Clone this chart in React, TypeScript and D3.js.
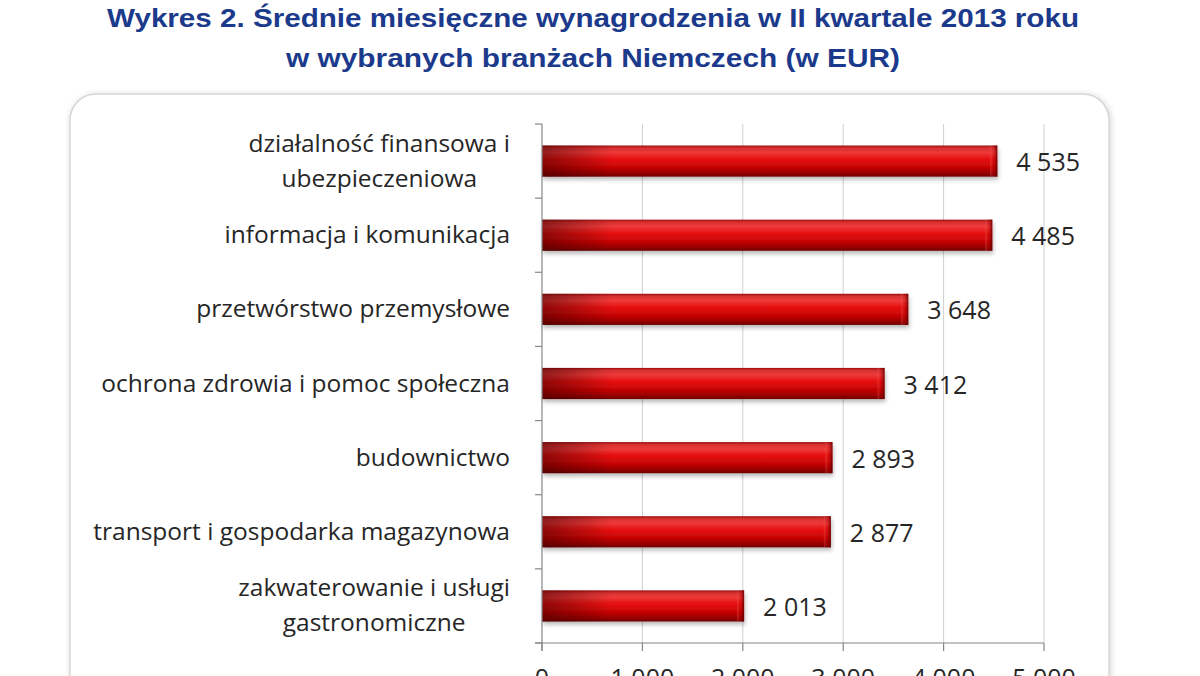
import { useEffect, useRef } from 'react';
import * as d3 from 'd3';

// Chart data
const categories = [
  'działalność finansowa i\nubezpieczeniowa',
  'informacja i komunikacja',
  'przetwórstwo przemysłowe',
  'ochrona zdrowia i pomoc społeczna',
  'budownictwo',
  'transport i gospodarka magazynowa',
  'zakwaterowanie i usługi\ngastronomiczne',
];
const values = [4535, 4485, 3648, 3412, 2893, 2877, 2013];
const xTicks = [0, 1000, 2000, 3000, 4000, 5000];
const titleLines = [
  'Wykres 2. Średnie miesięczne wynagrodzenia w II kwartale 2013 roku',
  'w wybranych branżach Niemczech (w EUR)',
];
const titleWidths = [972, 614];

const WIDTH = 1200;
const HEIGHT = 676;
const LABEL_FONT = '"Open Sans", "Noto Sans", sans-serif';

const plLocale = d3.formatLocale({ decimal: ',', thousands: ' ', grouping: [3], currency: ['', ' EUR'] });
const fmt = plLocale.format(',d');

export default function App() {
  const svgRef = useRef<SVGSVGElement>(null);

  useEffect(() => {
    if (!svgRef.current) return;
    const svg = d3.select(svgRef.current);
    svg.selectAll('*').remove();

    const margin = { top: 124, right: 156, bottom: 33, left: 542 };
    const x = d3.scaleLinear().domain([0, 5000]).range([margin.left, WIDTH - margin.right]);
    const y = d3.scaleBand()
      .domain(categories)
      .range([margin.top, HEIGHT - margin.bottom])
      .paddingInner(0.58)
      .paddingOuter(0.29);

    const defs = svg.append('defs');

    // panel shadow
    const shadow = defs.append('filter').attr('id', 'panelShadow')
      .attr('x', '-5%').attr('y', '-5%').attr('width', '110%').attr('height', '110%');
    shadow.append('feGaussianBlur').attr('in', 'SourceAlpha').attr('stdDeviation', 3);
    shadow.append('feOffset').attr('dx', 1).attr('dy', 1).attr('result', 'b');
    shadow.append('feComponentTransfer').append('feFuncA').attr('type', 'linear').attr('slope', 0.18);
    const merge = shadow.append('feMerge');
    merge.append('feMergeNode');
    merge.append('feMergeNode').attr('in', 'SourceGraphic');

    // bar shadow
    const barShadow = defs.append('filter').attr('id', 'barShadow')
      .attr('x', '-2%').attr('y', '-20%').attr('width', '106%').attr('height', '160%');
    barShadow.append('feDropShadow')
      .attr('dx', 1).attr('dy', 3).attr('stdDeviation', 2)
      .attr('flood-color', '#000').attr('flood-opacity', 0.28);

    // vertical cylinder gradient
    const vg = defs.append('linearGradient').attr('id', 'barFill')
      .attr('x1', 0).attr('y1', 0).attr('x2', 0).attr('y2', 1);
    [
      ['0%', '#9c1010'],
      ['8%', '#d63030'],
      ['22%', '#ee3a3a'],
      ['45%', '#e50d0d'],
      ['70%', '#c60505'],
      ['90%', '#940000'],
      ['100%', '#6a0000'],
    ].forEach(([o, c]) => vg.append('stop').attr('offset', o).attr('stop-color', c));

    // darker left end
    const lg = defs.append('linearGradient').attr('id', 'barLeft')
      .attr('gradientUnits', 'userSpaceOnUse')
      .attr('x1', x(0)).attr('x2', x(0) + 70).attr('y1', 0).attr('y2', 0);
    lg.append('stop').attr('offset', '0%').attr('stop-color', '#3a0000').attr('stop-opacity', 0.5);
    lg.append('stop').attr('offset', '100%').attr('stop-color', '#3a0000').attr('stop-opacity', 0);

    // right end bevel
    const rg = defs.append('linearGradient').attr('id', 'barRight')
      .attr('x1', 0).attr('x2', 1).attr('y1', 0).attr('y2', 0);
    rg.append('stop').attr('offset', '0%').attr('stop-color', '#ff6a6a').attr('stop-opacity', 0.35);
    rg.append('stop').attr('offset', '45%').attr('stop-color', '#b00000').attr('stop-opacity', 0.2);
    rg.append('stop').attr('offset', '100%').attr('stop-color', '#500000').attr('stop-opacity', 0.8);

    // Title
    svg.append('g')
      .selectAll('text')
      .data(titleLines)
      .enter()
      .append('text')
      .attr('x', 593)
      .attr('y', (_, i) => 27 + i * 40)
      .attr('text-anchor', 'middle')
      .attr('font-family', '"Liberation Sans", Arial, sans-serif')
      .attr('font-weight', 700)
      .attr('font-size', 25)
      .attr('fill', '#1c3a8c')
      .attr('textLength', (_, i) => titleWidths[i])
      .attr('lengthAdjust', 'spacingAndGlyphs')
      .text(d => d);

    // Panel
    svg.append('rect')
      .attr('x', 70).attr('y', 94)
      .attr('width', 1039).attr('height', 640)
      .attr('rx', 26).attr('ry', 26)
      .attr('fill', '#fff')
      .attr('stroke', '#d6d6d6')
      .attr('stroke-width', 1.5)
      .attr('filter', 'url(#panelShadow)');

    const plotBottom = HEIGHT - margin.bottom;

    // Gridlines
    svg.append('g')
      .selectAll('line')
      .data(xTicks.slice(1))
      .enter()
      .append('line')
      .attr('x1', d => x(d)).attr('x2', d => x(d))
      .attr('y1', margin.top).attr('y2', plotBottom)
      .attr('stroke', '#cfcfcf')
      .attr('stroke-width', 1);

    // Bars
    const bars = svg.append('g')
      .selectAll('g')
      .data(categories.map((c, i) => ({ c, v: values[i] })))
      .enter()
      .append('g');

    bars.append('rect')
      .attr('x', x(0))
      .attr('y', d => y(d.c) || 0)
      .attr('width', d => x(d.v) - x(0))
      .attr('height', y.bandwidth())
      .attr('fill', 'url(#barFill)')
      .attr('filter', 'url(#barShadow)');

    bars.append('rect')
      .attr('x', x(0))
      .attr('y', d => y(d.c) || 0)
      .attr('width', d => x(d.v) - x(0))
      .attr('height', y.bandwidth())
      .attr('fill', 'url(#barLeft)');

    bars.append('rect')
      .attr('x', d => x(d.v) - 7)
      .attr('y', d => y(d.c) || 0)
      .attr('width', 7)
      .attr('height', y.bandwidth())
      .attr('fill', 'url(#barRight)');

    // Value labels
    bars.append('text')
      .attr('x', d => x(d.v) + 19)
      .attr('y', d => (y(d.c) || 0) + y.bandwidth() / 2 + 10)
      .attr('font-family', LABEL_FONT)
      .attr('font-size', 25)
      .attr('fill', '#262626')
      .text(d => fmt(d.v));

    // Left axis
    const axisG = svg.append('g').attr('stroke', '#868686').attr('stroke-width', 1.2);
    axisG.append('line')
      .attr('x1', x(0)).attr('x2', x(0))
      .attr('y1', margin.top).attr('y2', plotBottom + 8);
    const step = y.step();
    axisG.selectAll('.ytick')
      .data(d3.range(categories.length + 1))
      .enter()
      .append('line')
      .attr('class', 'ytick')
      .attr('x1', x(0) - 7).attr('x2', x(0))
      .attr('y1', i => margin.top + i * step)
      .attr('y2', i => margin.top + i * step);

    // Bottom axis
    axisG.append('line')
      .attr('x1', x(0) - 7).attr('x2', x(5000))
      .attr('y1', plotBottom).attr('y2', plotBottom);
    axisG.selectAll('.xtick')
      .data(xTicks)
      .enter()
      .append('line')
      .attr('class', 'xtick')
      .attr('x1', d => x(d)).attr('x2', d => x(d))
      .attr('y1', plotBottom).attr('y2', plotBottom + 8);

    svg.append('g')
      .selectAll('text')
      .data(xTicks)
      .enter()
      .append('text')
      .attr('x', d => x(d))
      .attr('y', plotBottom + 44)
      .attr('text-anchor', 'middle')
      .attr('font-family', LABEL_FONT)
      .attr('font-size', 25)
      .attr('fill', '#262626')
      .text(d => fmt(d));

    // Category labels (Excel style: wrapped lines centred inside a right-aligned block)
    const labelRight = 510;
    const lineH = 35;
    categories.forEach(c => {
      const lines = c.split('\n');
      const cy = (y(c) || 0) + y.bandwidth() / 2;
      const g = svg.append('g');
      const texts = lines.map((line, i) =>
        g.append('text')
          .attr('y', cy + (i - (lines.length - 1) / 2) * lineH + 8)
          .attr('font-family', LABEL_FONT)
          .attr('font-size', 24.5)
          .attr('fill', '#262626')
          .attr('text-anchor', 'middle')
          .text(line)
      );
      const maxW = d3.max(texts, t => (t.node() as SVGTextElement).getComputedTextLength()) || 0;
      texts.forEach(t => t.attr('x', labelRight - maxW / 2));
    });
  }, []);

  return (
    <svg
      ref={svgRef}
      width={WIDTH}
      height={HEIGHT}
      style={{ position: 'absolute', left: 0, top: 0, background: '#fff' }}
    />
  );
}
